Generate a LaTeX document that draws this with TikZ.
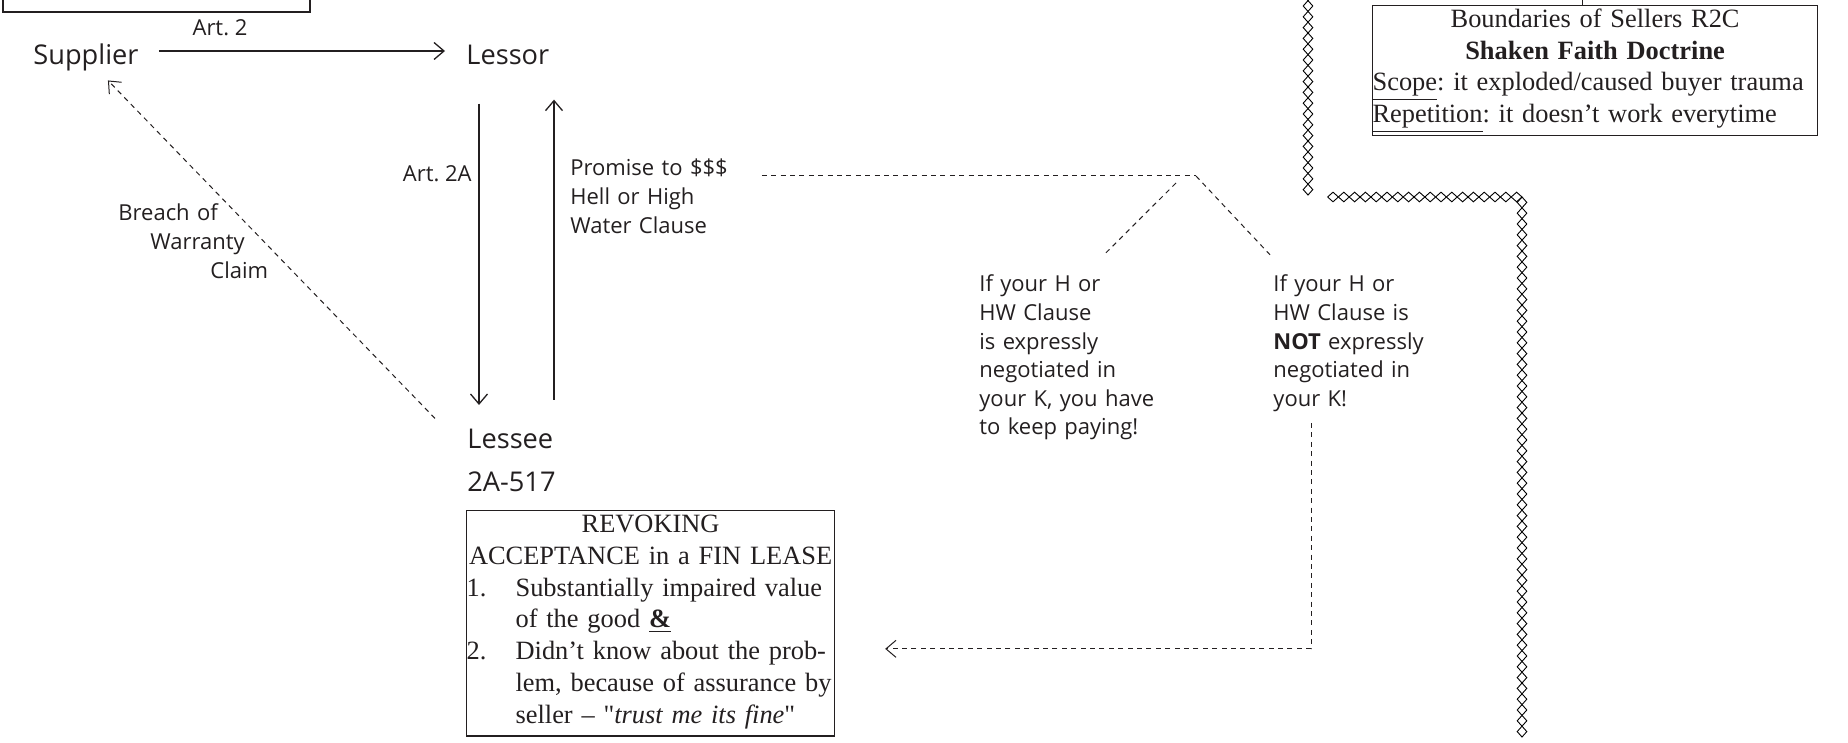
\documentclass[tikz,border=0pt]{standalone}
\usepackage{fontspec}
\setmainfont{Liberation Serif}[Ligatures=TeXOff]
\newfontfamily\osans{Open Sans}
\usetikzlibrary{arrows.meta,decorations.pathmorphing}
\definecolor{ink}{RGB}{35,31,32}
\frenchspacing
\newcommand\fnBig{\osans\fontsize{13.6pt}{16pt}\selectfont}
\newcommand\fnSmall{\osans\fontsize{11pt}{14.3pt}\selectfont}
\newcommand\fnBox{\fontsize{13.2pt}{15.9pt}\selectfont}
\tikzset{
  party/.style={font=\fnBig, text=ink, inner sep=0pt},
  note/.style={font=\fnSmall, text=ink, inner sep=0pt},
  notepar/.style={note, align=left, text width=#1},
  rulebox/.style={draw=ink, line width=0.6pt, font=\fnBox, text=ink,
    inner xsep=0pt, align=left, text width=#1},
  arr/.style={draw=ink, line width=0.65pt,
    -{Straight Barb[length=5pt,width=8.5pt]}},
  dasharr/.style={draw=ink, line width=0.5pt, dash pattern=on 2.5pt off 2.2pt,
    -{Straight Barb[length=5pt,width=8.5pt]}},
  dashln/.style={draw=ink, line width=0.5pt, dash pattern=on 2.5pt off 2.2pt},
  chain/.style={draw=black, line width=0.45pt, decorate,
    decoration={zigzag, segment length=10.8pt, amplitude=#1}},
}
\begin{document}
\begin{tikzpicture}[x=0.5pt,y=-0.5pt]
\useasboundingbox (0,0) rectangle (1848,743);
\clip (0,0) rectangle (1848,743);

% box running off the top edge
\draw[ink, line width=0.6pt] (3,-30) rectangle (310,12);

% parties
\node[party, anchor=base west] (sup) at (33,65) {Supplier};
\node[party, anchor=base west] (lessor) at (466,65) {Lessor};
\node[party, anchor=base west] (lessee) at (467,448) {Lessee};
\node[party, anchor=base west] (sec517) at (467,491) {2A-517};

\coordinate (row) at (0,51);
\coordinate (dnx) at (479,0);
\coordinate (upx) at (554,0);

% supplier -> lessor
\draw[arr, shorten <=10pt, shorten >=10.5pt] (sup.east |- row) -- (lessor.west |- row);
\node[note, anchor=base] (art2) at (220,36) {Art. 2};

% lessor <-> lessee
\draw[arr, shorten <=19pt, shorten >=11.6pt] (lessor.south -| dnx) -- (lessee.north -| dnx);
\draw[arr, shorten <=14.1pt, shorten >=17pt] (lessee.north -| upx) -- (lessor.south -| upx);
\node[note, anchor=base east] (art2a) at (472,182) {Art. 2A};
\node[notepar=92pt, anchor=base west] (promise) at (570,176)
  {Promise to \$\$\$\\Hell or High\\Water Clause};

% warranty claim back to the supplier
\node[notepar=90pt, anchor=base west] (breach) at (118,221)
  {Breach of\\\hspace*{16pt}Warranty\\\hspace*{46pt}Claim};
\draw[dasharr] ([shift={(-32,-20)}]lessee.west) -- ([shift={(22,8.5)}]sup.south);

% hell or high water fork
\coordinate (fork) at (1196,176);
\draw[dashln] ([xshift=3.5pt]promise.base east) -- (fork);
\node[notepar=95pt, anchor=base west] (ifyes) at (979,292)
  {If your H or\\HW Clause\\is expressly\\negotiated in\\your K, you have\\to keep paying!};
\node[notepar=85pt, anchor=base west] (ifno) at (1273,292)
  {If your H or\\HW Clause is\\\textbf{NOT} expressly\\negotiated in\\your K!};
\draw[dashln] ([shift={(-20,7)}]fork) -- ([shift={(125,-20)}]ifyes.north west);
\draw[dashln] (fork) -- ([shift={(-3,-20)}]ifno.north west);

% revocation box
\node[rulebox=184pt, anchor=north west, inner ysep=2.2pt] (revoke) at (466,510)
  {{\centering REVOKING\\ACCEPTANCE in a FIN LEASE\par}
   \makebox[24.5pt][l]{1.}Substantially impaired value\\
   \hspace*{24.5pt}of the good \underline{\textbf{\&}}\\
   \makebox[24.5pt][l]{2.}Didn’t know about the prob-\\
   \hspace*{24.5pt}lem, because of assurance by\\
   \hspace*{24.5pt}seller – "\textit{trust me its fine}"\rule[-4.2pt]{0pt}{0pt}};
\draw[dasharr] ([shift={(38,11)}]ifno.south west) |- ([shift={(50,25.5)}]revoke.east);

% shaken faith box
\node[rulebox=222.5pt, anchor=north west, inner ysep=1.6pt] (bounds) at (1372,5)
  {{\centering Boundaries of Sellers R2C\\\textbf{Shaken Faith Doctrine}\par}
   \underline{Scope}: it exploded/caused buyer trauma\\
   \underline{Repetition}: it doesn’t work everytime};
\draw[ink, line width=0.6pt] ([xshift=-6.25pt]bounds.north) -- ++(0,-12);

% diamond-chain border
\foreach \a in {2.4pt,-2.4pt} {
  \draw[chain=\a] (1308,-21) -- (1308,195.3);
  \draw[chain=\a] (1327.6,197) -- (1522.3,197);
  \draw[chain=\a] (1522,197) -- (1522,737.3);
}
\end{tikzpicture}
\end{document}
